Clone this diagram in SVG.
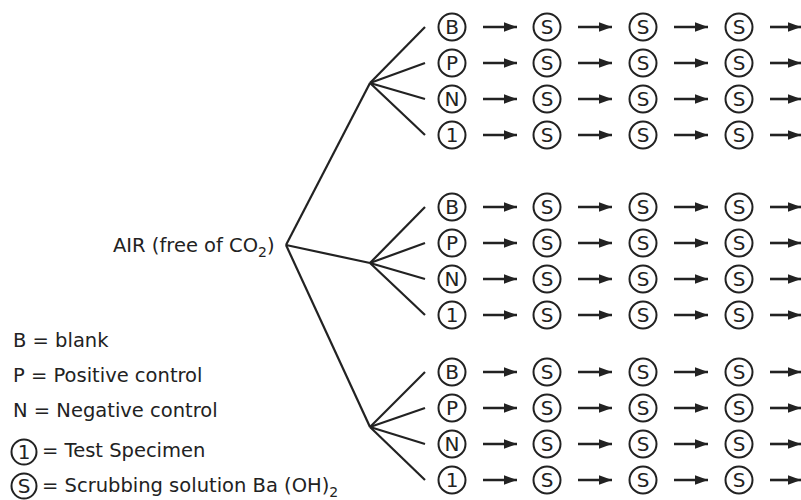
<svg xmlns="http://www.w3.org/2000/svg" width="801" height="500" viewBox="0 0 801 500">
<style>
text{font-family:"DejaVu Sans",Verdana,sans-serif;font-size:19.5px;fill:#222}
.n circle{fill:#fff;stroke:#222;stroke-width:2}
.n text{text-anchor:middle;font-size:20px}
.ln line{stroke:#222;stroke-width:2.2}
.ar line{stroke:#222;stroke-width:2.6;marker-end:url(#ah)}
</style>
<defs>
<marker id="ah" markerWidth="5" markerHeight="3.6" refX="5" refY="1.8" orient="auto" markerUnits="strokeWidth">
<path d="M0,0 L5,1.8 L0,3.6 z" fill="#222"/>
</marker>
</defs>
<g id="legend">
<text x="13" y="347">B = blank</text>
<text x="13" y="382">P = Positive control</text>
<text x="13" y="417">N = Negative control</text>
<g class="n"><circle cx="24" cy="452" r="12.5"/><text x="24" y="459">1</text></g>
<text x="42" y="457">= Test Specimen</text>
<g class="n"><circle cx="24" cy="486" r="12.5"/><text x="24" y="493">S</text></g>
<text x="42" y="492">= Scrubbing solution Ba (OH)<tspan dy="5" font-size="14">2</tspan></text>
</g>
<g id="air"><text x="113" y="252" font-size="20.5">AIR (free of CO<tspan dy="5" font-size="14">2</tspan><tspan dy="-5">)</tspan></text></g>
<g id="connectors">
<g class="ln">
<line x1="286" y1="245" x2="370" y2="83"/>
<line x1="286" y1="245" x2="370" y2="263"/>
<line x1="286" y1="245" x2="370" y2="427"/>
<line x1="370" y1="83" x2="425" y2="27"/>
<line x1="370" y1="83" x2="425" y2="63"/>
<line x1="370" y1="83" x2="425" y2="99"/>
<line x1="370" y1="83" x2="425" y2="135"/>
<line x1="370" y1="263" x2="425" y2="207"/>
<line x1="370" y1="263" x2="425" y2="243"/>
<line x1="370" y1="263" x2="425" y2="279"/>
<line x1="370" y1="263" x2="425" y2="315"/>
<line x1="370" y1="427" x2="425" y2="372"/>
<line x1="370" y1="427" x2="425" y2="408"/>
<line x1="370" y1="427" x2="425" y2="444"/>
<line x1="370" y1="427" x2="425" y2="480"/>
</g>
<g class="ar">
<line x1="483" y1="27" x2="517" y2="27"/><line x1="578" y1="27" x2="612" y2="27"/><line x1="674" y1="27" x2="708" y2="27"/><line x1="770" y1="27" x2="801" y2="27"/>
<line x1="483" y1="63" x2="517" y2="63"/><line x1="578" y1="63" x2="612" y2="63"/><line x1="674" y1="63" x2="708" y2="63"/><line x1="770" y1="63" x2="801" y2="63"/>
<line x1="483" y1="99" x2="517" y2="99"/><line x1="578" y1="99" x2="612" y2="99"/><line x1="674" y1="99" x2="708" y2="99"/><line x1="770" y1="99" x2="801" y2="99"/>
<line x1="483" y1="135" x2="517" y2="135"/><line x1="578" y1="135" x2="612" y2="135"/><line x1="674" y1="135" x2="708" y2="135"/><line x1="770" y1="135" x2="801" y2="135"/>
<line x1="483" y1="207" x2="517" y2="207"/><line x1="578" y1="207" x2="612" y2="207"/><line x1="674" y1="207" x2="708" y2="207"/><line x1="770" y1="207" x2="801" y2="207"/>
<line x1="483" y1="243" x2="517" y2="243"/><line x1="578" y1="243" x2="612" y2="243"/><line x1="674" y1="243" x2="708" y2="243"/><line x1="770" y1="243" x2="801" y2="243"/>
<line x1="483" y1="279" x2="517" y2="279"/><line x1="578" y1="279" x2="612" y2="279"/><line x1="674" y1="279" x2="708" y2="279"/><line x1="770" y1="279" x2="801" y2="279"/>
<line x1="483" y1="315" x2="517" y2="315"/><line x1="578" y1="315" x2="612" y2="315"/><line x1="674" y1="315" x2="708" y2="315"/><line x1="770" y1="315" x2="801" y2="315"/>
<line x1="483" y1="372" x2="517" y2="372"/><line x1="578" y1="372" x2="612" y2="372"/><line x1="674" y1="372" x2="708" y2="372"/><line x1="770" y1="372" x2="801" y2="372"/>
<line x1="483" y1="408" x2="517" y2="408"/><line x1="578" y1="408" x2="612" y2="408"/><line x1="674" y1="408" x2="708" y2="408"/><line x1="770" y1="408" x2="801" y2="408"/>
<line x1="483" y1="444" x2="517" y2="444"/><line x1="578" y1="444" x2="612" y2="444"/><line x1="674" y1="444" x2="708" y2="444"/><line x1="770" y1="444" x2="801" y2="444"/>
<line x1="483" y1="480" x2="517" y2="480"/><line x1="578" y1="480" x2="612" y2="480"/><line x1="674" y1="480" x2="708" y2="480"/><line x1="770" y1="480" x2="801" y2="480"/>
</g>
</g>
<g id="nodes">
<g id="g1-B" class="n"><circle cx="452" cy="27" r="13.5"/><text x="452" y="34">B</text></g>
<g id="g1-B-s1" class="n"><circle cx="547" cy="27" r="13.5"/><text x="547" y="34">S</text></g>
<g id="g1-B-s2" class="n"><circle cx="643" cy="27" r="13.5"/><text x="643" y="34">S</text></g>
<g id="g1-B-s3" class="n"><circle cx="739" cy="27" r="13.5"/><text x="739" y="34">S</text></g>
<g id="g1-P" class="n"><circle cx="452" cy="63" r="13.5"/><text x="452" y="70">P</text></g>
<g id="g1-P-s1" class="n"><circle cx="547" cy="63" r="13.5"/><text x="547" y="70">S</text></g>
<g id="g1-P-s2" class="n"><circle cx="643" cy="63" r="13.5"/><text x="643" y="70">S</text></g>
<g id="g1-P-s3" class="n"><circle cx="739" cy="63" r="13.5"/><text x="739" y="70">S</text></g>
<g id="g1-N" class="n"><circle cx="452" cy="99" r="13.5"/><text x="452" y="106">N</text></g>
<g id="g1-N-s1" class="n"><circle cx="547" cy="99" r="13.5"/><text x="547" y="106">S</text></g>
<g id="g1-N-s2" class="n"><circle cx="643" cy="99" r="13.5"/><text x="643" y="106">S</text></g>
<g id="g1-N-s3" class="n"><circle cx="739" cy="99" r="13.5"/><text x="739" y="106">S</text></g>
<g id="g1-1" class="n"><circle cx="452" cy="135" r="13.5"/><text x="452" y="142">1</text></g>
<g id="g1-1-s1" class="n"><circle cx="547" cy="135" r="13.5"/><text x="547" y="142">S</text></g>
<g id="g1-1-s2" class="n"><circle cx="643" cy="135" r="13.5"/><text x="643" y="142">S</text></g>
<g id="g1-1-s3" class="n"><circle cx="739" cy="135" r="13.5"/><text x="739" y="142">S</text></g>
<g id="g2-B" class="n"><circle cx="452" cy="207" r="13.5"/><text x="452" y="214">B</text></g>
<g id="g2-B-s1" class="n"><circle cx="547" cy="207" r="13.5"/><text x="547" y="214">S</text></g>
<g id="g2-B-s2" class="n"><circle cx="643" cy="207" r="13.5"/><text x="643" y="214">S</text></g>
<g id="g2-B-s3" class="n"><circle cx="739" cy="207" r="13.5"/><text x="739" y="214">S</text></g>
<g id="g2-P" class="n"><circle cx="452" cy="243" r="13.5"/><text x="452" y="250">P</text></g>
<g id="g2-P-s1" class="n"><circle cx="547" cy="243" r="13.5"/><text x="547" y="250">S</text></g>
<g id="g2-P-s2" class="n"><circle cx="643" cy="243" r="13.5"/><text x="643" y="250">S</text></g>
<g id="g2-P-s3" class="n"><circle cx="739" cy="243" r="13.5"/><text x="739" y="250">S</text></g>
<g id="g2-N" class="n"><circle cx="452" cy="279" r="13.5"/><text x="452" y="286">N</text></g>
<g id="g2-N-s1" class="n"><circle cx="547" cy="279" r="13.5"/><text x="547" y="286">S</text></g>
<g id="g2-N-s2" class="n"><circle cx="643" cy="279" r="13.5"/><text x="643" y="286">S</text></g>
<g id="g2-N-s3" class="n"><circle cx="739" cy="279" r="13.5"/><text x="739" y="286">S</text></g>
<g id="g2-1" class="n"><circle cx="452" cy="315" r="13.5"/><text x="452" y="322">1</text></g>
<g id="g2-1-s1" class="n"><circle cx="547" cy="315" r="13.5"/><text x="547" y="322">S</text></g>
<g id="g2-1-s2" class="n"><circle cx="643" cy="315" r="13.5"/><text x="643" y="322">S</text></g>
<g id="g2-1-s3" class="n"><circle cx="739" cy="315" r="13.5"/><text x="739" y="322">S</text></g>
<g id="g3-B" class="n"><circle cx="452" cy="372" r="13.5"/><text x="452" y="379">B</text></g>
<g id="g3-B-s1" class="n"><circle cx="547" cy="372" r="13.5"/><text x="547" y="379">S</text></g>
<g id="g3-B-s2" class="n"><circle cx="643" cy="372" r="13.5"/><text x="643" y="379">S</text></g>
<g id="g3-B-s3" class="n"><circle cx="739" cy="372" r="13.5"/><text x="739" y="379">S</text></g>
<g id="g3-P" class="n"><circle cx="452" cy="408" r="13.5"/><text x="452" y="415">P</text></g>
<g id="g3-P-s1" class="n"><circle cx="547" cy="408" r="13.5"/><text x="547" y="415">S</text></g>
<g id="g3-P-s2" class="n"><circle cx="643" cy="408" r="13.5"/><text x="643" y="415">S</text></g>
<g id="g3-P-s3" class="n"><circle cx="739" cy="408" r="13.5"/><text x="739" y="415">S</text></g>
<g id="g3-N" class="n"><circle cx="452" cy="444" r="13.5"/><text x="452" y="451">N</text></g>
<g id="g3-N-s1" class="n"><circle cx="547" cy="444" r="13.5"/><text x="547" y="451">S</text></g>
<g id="g3-N-s2" class="n"><circle cx="643" cy="444" r="13.5"/><text x="643" y="451">S</text></g>
<g id="g3-N-s3" class="n"><circle cx="739" cy="444" r="13.5"/><text x="739" y="451">S</text></g>
<g id="g3-1" class="n"><circle cx="452" cy="480" r="13.5"/><text x="452" y="487">1</text></g>
<g id="g3-1-s1" class="n"><circle cx="547" cy="480" r="13.5"/><text x="547" y="487">S</text></g>
<g id="g3-1-s2" class="n"><circle cx="643" cy="480" r="13.5"/><text x="643" y="487">S</text></g>
<g id="g3-1-s3" class="n"><circle cx="739" cy="480" r="13.5"/><text x="739" y="487">S</text></g>
</g>
</svg>
